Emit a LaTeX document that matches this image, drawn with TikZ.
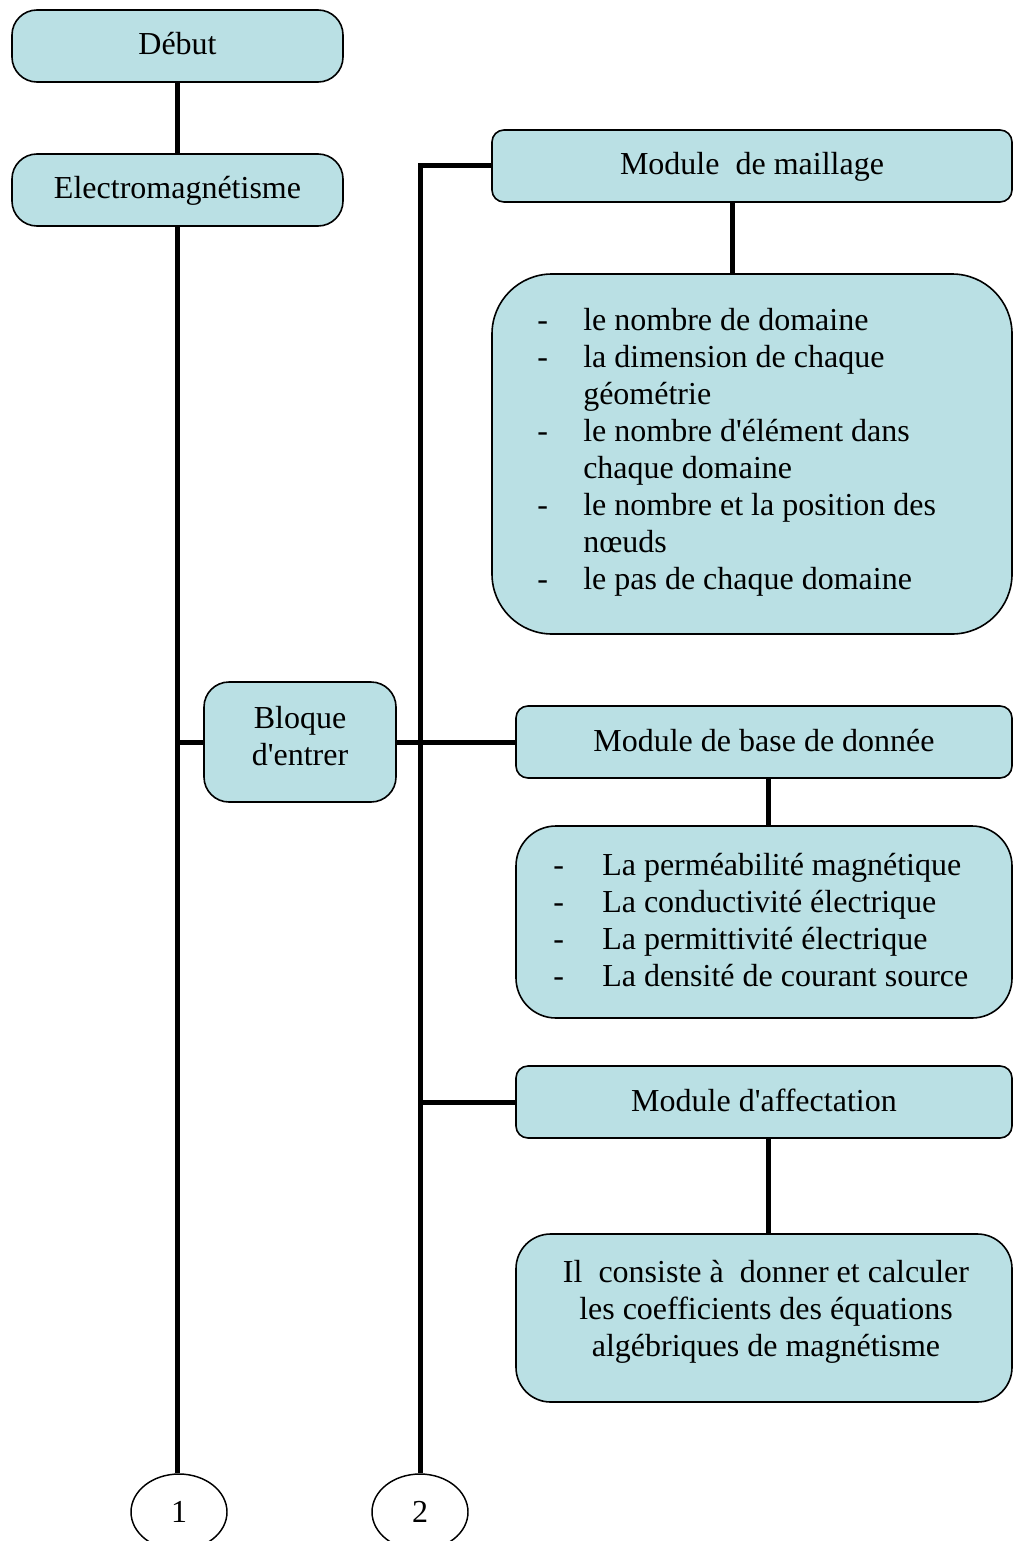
\documentclass[tikz,border=0pt]{standalone}
\usepackage{fontspec}
\setmainfont{Liberation Serif}
\usetikzlibrary{shapes.geometric}
\definecolor{boxfill}{RGB}{186,224,228}
\begin{document}
\begin{tikzpicture}[x=0.75pt,y=-0.75pt,
  every node/.style={font=\fontsize{24}{27.75}\selectfont},
  box/.style={draw=black, line width=1.2pt, fill=boxfill, inner sep=0pt, rectangle},
  hdr/.style={box, text height=17pt, text depth=3.5pt},
  conn/.style={line width=3.75pt},
  txt/.style={inner sep=0pt},
  term/.style={draw=black, ellipse, line width=1.1pt, fill=white, minimum width=72pt, minimum height=57pt, inner sep=0pt, text height=16.3pt, text depth=0pt}]
\useasboundingbox (0,0) rectangle (1013,1541);

% boxes
\node[hdr, rounded corners=18.75pt, minimum width=248.25pt, minimum height=54pt] (debut) at (177.5,46) {Début};
\node[hdr, rounded corners=18.75pt, minimum width=248.25pt, minimum height=54pt] (electro) at (177.5,190) {Electromagnétisme};
\node[hdr, rounded corners=9pt, minimum width=390pt, minimum height=54pt] (mod1) at (752,166) {Module~ de maillage};
\node[box, rounded corners=45pt, minimum width=390pt, minimum height=270pt] (list1) at (752,454) {};
\node[box, rounded corners=18.75pt, minimum width=144pt, minimum height=90pt] (bloque) at (300,742) {};
\node[hdr, rounded corners=9pt, minimum width=372pt, minimum height=54pt] (mod2) at (764,742) {Module de base de donnée};
\node[box, rounded corners=30pt, minimum width=372pt, minimum height=144pt] (list2) at (764,922) {};
\node[hdr, rounded corners=9pt, minimum width=372pt, minimum height=54pt] (mod3) at (764,1102) {Module d\textquotesingle affectation};
\node[box, rounded corners=26pt, minimum width=372pt, minimum height=126pt] (list3) at (764,1318) {};

% terminals
\node[term] (c1) at (179,1512) {1};
\node[term] (c2) at (420,1512) {2};

% texts inside boxes
\node[txt, anchor=base west] (l1txt) at (537,330) {\begin{tabular}[t]{@{}p{34.5pt}@{}l@{}}
-&le nombre de domaine\\
-&la dimension de chaque\\
&géométrie\\
-&le nombre d\textquotesingle élément dans\\
&chaque domaine\\
-&le nombre et la position des\\
&nœuds\\
-&le pas de chaque domaine
\end{tabular}};
\node[txt, anchor=base] (btxt) at (300,728) {\begin{tabular}[t]{@{}c@{}}Bloque\\ d\textquotesingle entrer\end{tabular}};
\node[txt, anchor=base west] (l2txt) at (553,875) {\begin{tabular}[t]{@{}p{36.75pt}@{}l@{}}
-&La perméabilité magnétique\\
-&La conductivité électrique\\
-&La permittivité électrique\\
-&La densité de courant source
\end{tabular}};
\node[txt, anchor=base] (l3txt) at (766,1282) {\begin{tabular}[t]{@{}c@{}}Il~ consiste à~ donner et calculer\\ les coefficients des équations\\ algébriques de magnétisme\end{tabular}};

% connectors
\draw[conn] (debut.south) -- (electro.north);
\draw[conn] (electro.south) -- (electro.south |- c1.north);
\draw[conn] (bloque.west) -- (bloque.west -| electro.south);
\draw[conn] (mod1.west) -| (c2.north);
\draw[conn] (bloque.east) -- (mod2.west);
\draw[conn] (mod3.west) -- (mod3.west -| c2.north);
\draw[conn] ([xshift=-15pt]mod1.south) -- ([xshift=-15pt]list1.north);
\draw[conn] ([xshift=3pt]mod2.south) -- ([xshift=3pt]list2.north);
\draw[conn] ([xshift=3pt]mod3.south) -- ([xshift=3pt]list3.north);
\end{tikzpicture}
\end{document}
